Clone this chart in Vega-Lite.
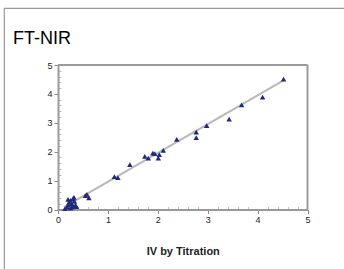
{
  "$schema": "https://vega.github.io/schema/vega-lite/v6.json",
  "width": 400,
  "height": 320,
  "autosize": {"type": "none"},
  "padding": {"left": 4, "top": 8, "right": -60, "bottom": -59},
  "background": "#ffffff",
  "config": {
    "view": {"stroke": "#999999", "strokeWidth": 1.2},
    "font": "Liberation Sans"
  },
  "title": {
    "text": "FT-NIR",
    "anchor": "start",
    "frame": "group",
    "orient": "top",
    "baseline": "alphabetic",
    "offset": -35,
    "dx": 9,
    "dy": 19,
    "fontSize": 18,
    "fontWeight": "normal",
    "font": "Liberation Sans",
    "color": "#000000"
  },
  "datasets": {
    "pts": [
      {"x": 0.14, "y": 0.03}, {"x": 0.18, "y": 0.08}, {"x": 0.2, "y": 0.15},
      {"x": 0.22, "y": 0.25}, {"x": 0.25, "y": 0.32}, {"x": 0.27, "y": 0.2},
      {"x": 0.3, "y": 0.38}, {"x": 0.3, "y": 0.12}, {"x": 0.33, "y": 0.28},
      {"x": 0.35, "y": 0.15}, {"x": 0.37, "y": 0.1}, {"x": 0.25, "y": 0.05},
      {"x": 0.2, "y": 0.35}, {"x": 0.32, "y": 0.42}, {"x": 0.28, "y": 0.08},
      {"x": 0.55, "y": 0.48}, {"x": 0.58, "y": 0.52}, {"x": 0.62, "y": 0.4},
      {"x": 1.13, "y": 1.14}, {"x": 1.2, "y": 1.1},
      {"x": 1.44, "y": 1.55},
      {"x": 1.74, "y": 1.84}, {"x": 1.81, "y": 1.78},
      {"x": 1.9, "y": 1.95}, {"x": 1.94, "y": 1.93},
      {"x": 2.01, "y": 1.78}, {"x": 2.03, "y": 1.9},
      {"x": 2.11, "y": 2.05},
      {"x": 2.38, "y": 2.43},
      {"x": 2.77, "y": 2.68}, {"x": 2.77, "y": 2.49},
      {"x": 2.98, "y": 2.9},
      {"x": 3.43, "y": 3.13},
      {"x": 3.68, "y": 3.62},
      {"x": 4.1, "y": 3.89},
      {"x": 4.52, "y": 4.51}
    ],
    "fit": [
      {"x": 0.12, "y": 0.08},
      {"x": 4.52, "y": 4.47}
    ],
    "frame": [
      {"x": 0, "x2": 5, "y": 5, "y2": 5},
      {"x": 5, "x2": 5, "y": 0, "y2": 5}
    ]
  },
  "encoding": {
    "x": {
      "field": "x", "type": "quantitative",
      "scale": {"domain": [0, 5], "range": [54, 303.5], "nice": false},
      "axis": {
        "orient": "bottom",
        "offset": -118.5,
        "values": [0, 0.2, 0.4, 0.6, 0.8, 1, 1.2, 1.4, 1.6, 1.8, 2, 2.2, 2.4, 2.6, 2.8, 3, 3.2, 3.4, 3.6, 3.8, 4, 4.2, 4.4, 4.6, 4.8, 5],
        "labelExpr": "datum.value % 1 === 0 ? datum.label : ''",
        "format": "~g",
        "grid": false,
        "domainColor": "#9a9a9a",
        "domainWidth": 2,
        "tickSize": {"condition": {"test": "datum.value % 1 === 0", "value": 4}, "value": -3},
        "tickColor": {"condition": {"test": "datum.value % 1 === 0", "value": "#888888"}, "value": "#bdbdbd"},
        "tickWidth": 1,
        "labelFontSize": 9,
        "labelColor": "#222222",
        "labelPadding": 2,
        "labelFont": "Liberation Sans",
        "labelFlush": false,
        "title": "IV by Titration",
        "titleFont": "Liberation Sans",
        "titleFontSize": 11,
        "titleFontWeight": "bold",
        "titleColor": "#222222",
        "titleBaseline": "alphabetic",
        "titleY": 45
      }
    },
    "y": {
      "field": "y", "type": "quantitative",
      "scale": {"domain": [0, 5], "range": [201.5, 57], "nice": false},
      "axis": {
        "orient": "left",
        "offset": -54,
        "values": [0, 0.2, 0.4, 0.6, 0.8, 1, 1.2, 1.4, 1.6, 1.8, 2, 2.2, 2.4, 2.6, 2.8, 3, 3.2, 3.4, 3.6, 3.8, 4, 4.2, 4.4, 4.6, 4.8, 5],
        "labelExpr": "datum.value % 1 === 0 ? datum.label : ''",
        "format": "~g",
        "grid": false,
        "domainColor": "#9a9a9a",
        "domainWidth": 2,
        "tickSize": {"condition": {"test": "datum.value % 1 === 0", "value": 4}, "value": -3},
        "tickColor": {"condition": {"test": "datum.value % 1 === 0", "value": "#888888"}, "value": "#bdbdbd"},
        "tickWidth": 1,
        "labelFontSize": 9,
        "labelColor": "#222222",
        "labelPadding": 2,
        "labelFont": "Liberation Sans",
        "labelFlush": false,
        "title": null
      }
    }
  },
  "layer": [
    {
      "data": {"name": "fit"},
      "mark": {"type": "line", "color": "#b8b8b8", "strokeWidth": 2}
    },
    {
      "data": {"name": "frame"},
      "mark": {"type": "rule", "color": "#9a9a9a", "strokeWidth": 2},
      "encoding": {
        "x2": {"field": "x2"},
        "y2": {"field": "y2"}
      }
    },
    {
      "data": {"name": "pts"},
      "mark": {"type": "point", "shape": "triangle-up", "filled": true, "size": 30, "color": "#1f2a7e", "opacity": 1}
    }
  ]
}
